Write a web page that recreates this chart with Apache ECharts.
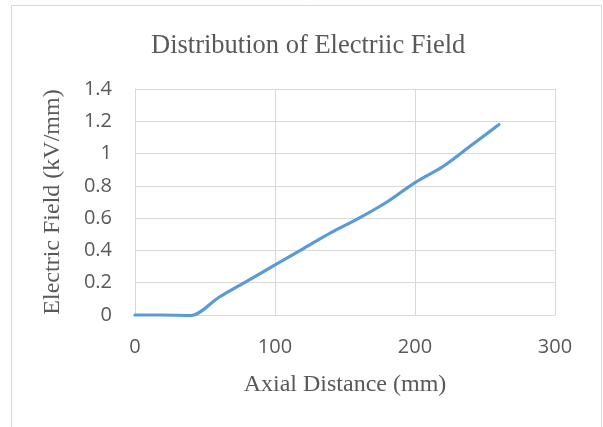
<!DOCTYPE html>
<html>
<head>
<meta charset="utf-8">
<script src="https://cdn.jsdelivr.net/npm/echarts@6/dist/echarts.min.js"></script>
<style>
  html, body { margin: 0; padding: 0; background: #fff; }
  #chart { width: 603px; height: 427px; }
</style>
</head>
<body>
<div id="chart"></div>
<script>
// Axial position along the electrode (mm)
const axialDistance = [0, 20, 40, 60, 80, 100, 120, 140, 160, 180, 200, 220, 240, 260];
// Electric field strength (kV/mm)
const fieldStrength = [0, 0, -0.003, 0.11, 0.21, 0.31, 0.41, 0.51, 0.60, 0.70, 0.82, 0.92, 1.05, 1.18];

const titleText = 'Distribution of Electriic Field';
const xName = 'Axial Distance (mm)';
const yName = 'Electric Field (kV/mm)';

const chart = echarts.init(document.getElementById('chart'), null, { renderer: 'canvas' });

const serif = '"Liberation Serif", "Times New Roman", serif';
const sans = '"Open Sans", "Liberation Sans", sans-serif';

chart.setOption({
  animation: false,
  backgroundColor: '#fff',
  graphic: [{
    type: 'rect',
    shape: { x: 11.5, y: 5.5, width: 590, height: 440 },
    style: { fill: 'none', stroke: '#d9d9d9', lineWidth: 1 },
    silent: true
  }],
  title: {
    text: titleText,
    left: 146,
    top: 28,
    textStyle: { fontFamily: serif, fontSize: 26.5, fontWeight: 'normal', color: '#595959' }
  },
  grid: { left: 135, right: 48, top: 89, bottom: 112 },
  xAxis: {
    type: 'value',
    min: 0, max: 300, interval: 100,
    name: xName,
    nameLocation: 'middle',
    nameGap: 58,
    nameTextStyle: { fontFamily: serif, fontSize: 24, color: '#595959' },
    axisLine: { show: true, lineStyle: { color: '#d9d9d9', width: 1 } },
    axisTick: { show: false },
    axisLabel: { fontFamily: sans, fontSize: 20, color: '#595959', margin: 22 },
    splitLine: { show: true, lineStyle: { color: '#d9d9d9', width: 1 } }
  },
  yAxis: {
    type: 'value',
    min: 0, max: 1.4, interval: 0.2,
    name: yName,
    nameLocation: 'middle',
    nameGap: 70,
    nameTextStyle: { fontFamily: serif, fontSize: 24, color: '#595959' },
    axisLine: { show: true, lineStyle: { color: '#d9d9d9', width: 1 } },
    axisTick: { show: false },
    axisLabel: { fontFamily: sans, fontSize: 20, color: '#595959', margin: 23,
      formatter: v => String(Math.round(v * 10) / 10) },
    splitLine: { show: true, lineStyle: { color: '#d9d9d9', width: 1 } }
  },
  series: [{
    type: 'line',
    data: axialDistance.map((x, i) => [x, fieldStrength[i]]),
    smooth: 0.3,
    showSymbol: false,
    lineStyle: { color: '#5b9bd5', width: 3.2, cap: 'round' },
    clip: false
  }]
});
</script>
</body>
</html>
